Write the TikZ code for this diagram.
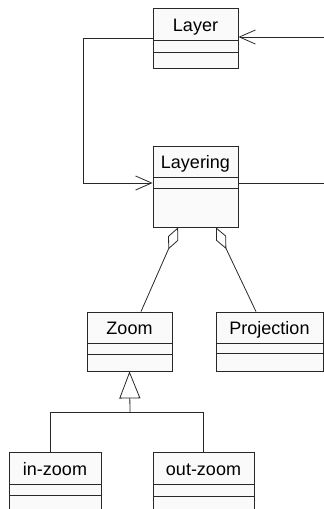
\documentclass[tikz,border=0pt]{standalone}
\usepackage{fontspec}
\setmainfont{Liberation Sans}
\usetikzlibrary{arrows.meta}

\definecolor{boxfill}{RGB}{250,250,250}
\definecolor{ink}{RGB}{40,40,40}

\tikzset{
  classbox/.style={draw=ink, fill=boxfill, line width=0.8pt, rectangle, inner sep=0pt},
  classname/.style={font=\fontsize{18pt}{20pt}\selectfont, inner sep=0pt, anchor=base},
  link/.style={draw=ink, line width=0.8pt},
  navarrow/.style={link, -{Straight Barb[length=16pt, width=14pt, line width=0.8pt]}},
  aggr/.style={link, -{Diamond[open, length=24pt, width=11pt, line width=0.8pt]}},
  inherit/.style={link, -{Triangle[open, length=27pt, width=21pt, line width=0.8pt]}},
}

% #1 name, #2 left, #3 top, #4 right, #5 bottom, #6 first separator, #7 second separator, #8 label
\newcommand\umlclass[8]{%
  \node[classbox, minimum width={(#4-#2)*1pt}, minimum height={(#5-#3)*1pt}]
    (#1) at ({(#2+#4)/2},{(#3+#5)/2}) {};
  \draw[link] (#2,#6) -- (#4,#6);
  \draw[link] (#2,#7) -- (#4,#7);
  \node[classname] (#1-name) at ({(#2+#4)/2},{#6-8.5}) {#8};
}

\begin{document}
\begin{tikzpicture}[x=1pt, y=-1pt]
\useasboundingbox (0,0) rectangle (324,509);
\clip (0,0) rectangle (324,509);

\umlclass{layer}{153}{8}{238}{68}{40}{52}{Layer}
\umlclass{layering}{153}{146}{238}{227}{177}{188}{Layering}
\umlclass{zoom}{87}{312}{172}{371}{343}{354}{Zoom}
\umlclass{projection}{216}{312}{323}{371}{343}{353}{Projection}
\umlclass{inzoom}{9}{452}{101}{530}{484}{495}{in-zoom}
\umlclass{outzoom}{153}{452}{254}{530}{484}{496}{out-zoom}

% associations between Layer and Layering
\coordinate (lbend) at (83,38);
\draw[navarrow] (layer.west) -- (lbend) |- (layering.west |- 0,183);
\coordinate (rbend1) at (345,183);
\coordinate (rbend2) at (345,37);
\draw[navarrow] (layering.east |- 0,183) -- (rbend1) -- (rbend2) -- (layer.east |- 0,37);

% aggregations
\draw[aggr] (zoom.north -| 141,0) -- (layering.south -| 178,0);
\draw[aggr] (projection.north -| 256,0) -- (layering.south -| 216,0);

% generalization
\coordinate (join) at (130,412);
\draw[link] (inzoom.north -| 50,0) |- (join);
\draw[link] (outzoom.north) |- (join);
\draw[inherit] (join) -- (zoom.south);
\end{tikzpicture}
\end{document}
